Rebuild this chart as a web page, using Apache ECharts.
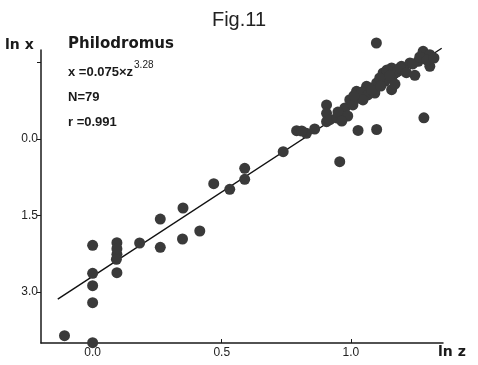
<!DOCTYPE html>
<html>
<head>
<meta charset="utf-8">
<script src="https://cdn.jsdelivr.net/npm/echarts@6/dist/echarts.min.js"></script>
<style>
html,body{margin:0;padding:0;background:#fff;}
#chart{width:478px;height:365px;}
</style>
</head>
<body>
<div id="chart"></div>
<script>
var lnZ = [
 -0.109, 0.000, 0.000, 0.000, 0.000, 0.000, 0.094, 0.094, 0.092, 0.094,
  0.182, 0.262, 0.262, 0.350, 0.348, 0.415, 0.469, 0.531, 0.589, 0.589,
  0.738, 0.790, 0.828, 0.860, 0.906, 0.906, 0.906, 0.957, 1.028, 1.100,
  1.283, 1.099, 0.919, 0.945, 0.970, 0.977, 0.996, 1.022, 1.035, 1.061,
  1.074, 1.093, 1.100, 1.125, 1.132, 1.158, 1.158, 1.158, 1.196, 1.229,
  1.248, 1.261, 1.280, 1.306, 1.306, 0.950, 0.988, 1.008, 1.043, 1.066,
  1.112, 1.140, 1.178, 1.205, 1.240, 1.267, 1.295, 1.322, 0.810, 1.081,
  1.171, 1.116, 1.047, 1.190, 0.965, 0.094, 1.012, 1.150, 1.215
];
// ln x values (the figure's y labels omit the minus sign)
var lnX = [
 -3.857, -3.994, -3.210, -2.876, -2.633, -2.084, -2.033, -2.261, -2.359, -2.622,
 -2.039, -1.569, -2.124, -1.353, -1.961, -1.804, -0.876, -0.986, -0.575, -0.790,
 -0.249,  0.163,  0.112,  0.196,  0.667,  0.504,  0.339, -0.445,  0.167,  0.186,
  0.416,  1.882,  0.378,  0.412,  0.510,  0.608,  0.771,  0.935,  0.804,  1.033,
  1.000,  0.902,  1.098,  1.294,  1.131,  1.392,  1.196,  0.967,  1.425,  1.490,
  1.249,  1.524,  1.720,  1.653,  1.425,  0.529,  0.451,  0.667,  0.922,  0.863,
  1.196,  1.353,  1.314,  1.353,  1.471,  1.608,  1.549,  1.588,  0.157,  0.961,
  1.078,  1.039,  0.765,  1.392,  0.353, -2.150,  0.850,  1.250,  1.300
];
// fitted line ln x = ln 0.075 + 3.28 ln z, drawn between its ends in the figure
var fitZ = [-0.135, 1.352];
var fitX = [-3.14, 1.78];

var xTicks = [0, 0.5, 1.0];
var yTicks = [-3, -1.5, 0, 1.5];
var yLabels = [-3, -1.5, 0];

var title = 'Fig.11';
var speciesName = 'Philodromus';
var eqMain = 'x =0.075×z';
var eqExp = '3.28';
var nText = 'N=79';
var rText = 'r =0.991';
var yName = 'ln x';
var xName = 'ln z';

var pts = lnZ.map(function(z, i){ return [z, lnX[i]]; });
var fit = fitZ.map(function(z, i){ return [z, fitX[i]]; });

var ink = '#1a1a1a';
var fam = 'Liberation Sans, Arial, sans-serif';
var eqFont = 'bold 13px ' + fam;
var cv = document.createElement('canvas').getContext('2d');
cv.font = eqFont;
var eqW = cv.measureText(eqMain).width;

var chart = echarts.init(document.getElementById('chart'), null, {renderer:'canvas'});
chart.setOption({
  animation: false,
  backgroundColor: '#fff',
  title: {
    text: title, left: 'center', top: 5,
    textStyle: {fontSize: 20, fontWeight: 'normal', color: '#222', fontFamily: fam}
  },
  grid: {left: 41, right: 35, top: 50, bottom: 22},
  xAxis: {
    type: 'value', min: -0.2, max: 1.357,
    axisLine: {onZero: false, lineStyle: {color: ink, width: 1.5}},
    axisTick: {show: true, inside: true, length: 4, customValues: xTicks, lineStyle: {color: ink}},
    axisLabel: {customValues: xTicks, margin: 4, color: '#222', fontSize: 12, fontFamily: fam,
      formatter: function(v){ return v.toFixed(1); }},
    splitLine: {show: false}
  },
  yAxis: {
    type: 'value', min: -4, max: 1.745,
    axisLine: {show: true, onZero: false, lineStyle: {color: ink, width: 1.5}},
    axisTick: {show: true, inside: false, length: 4, customValues: yTicks, lineStyle: {color: ink}},
    axisLabel: {customValues: yLabels, margin: 3, color: '#222', fontSize: 12, fontFamily: fam,
      formatter: function(v){ return Math.abs(v).toFixed(1); }},
    splitLine: {show: false}
  },
  graphic: [
    {type:'text', left: 5, top: 38, style:{text: yName, font: 'bold 14px DejaVu Sans, sans-serif', fill: ink}},
    {type:'text', left: 438, top: 345, style:{text: xName, font: 'bold 14px DejaVu Sans, sans-serif', fill: ink}},
    {type:'text', left: 68, top: 37, style:{text: speciesName, font: 'bold 15px DejaVu Sans, sans-serif', fill: ink}},
    {type:'text', left: 68, top: 66, style:{text: eqMain, font: eqFont, fill: ink}},
    {type:'text', left: 68 + eqW + 1, top: 60, style:{text: eqExp, font: '10px ' + fam, fill: ink}},
    {type:'text', left: 68, top: 91, style:{text: nText, font: 'bold 13px ' + fam, fill: ink}},
    {type:'text', left: 68, top: 116, style:{text: rText, font: 'bold 13px ' + fam, fill: ink}}
  ],
  series: [
    {
      type: 'line', data: fit, symbol: 'none', clip: false, z: 1,
      lineStyle: {color: '#111', width: 1.4}
    },
    {
      type: 'scatter', data: pts, symbol: 'circle', symbolSize: 11, clip: false, z: 2,
      itemStyle: {color: '#3a3a3a', opacity: 1}
    }
  ]
});
</script>
</body>
</html>
